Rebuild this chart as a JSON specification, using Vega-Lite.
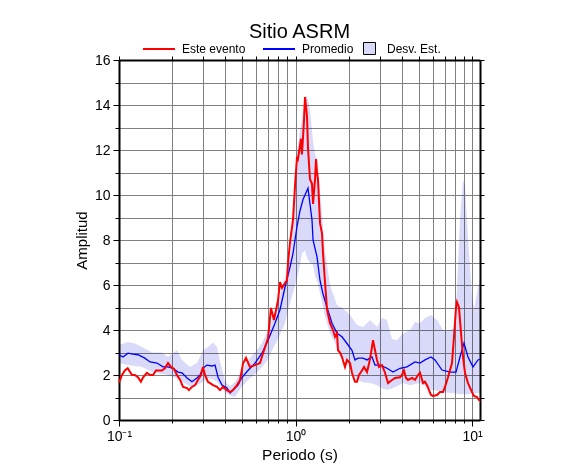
{
  "$schema": "https://vega.github.io/schema/vega-lite/v6.json",
  "width": 361,
  "height": 360,
  "autosize": "none",
  "padding": {"left": 119, "top": 60, "right": 106, "bottom": 55},
  "config": {
    "font": "Liberation Sans",
    "view": {"stroke": null},
    "axis": {"gridColor": "#808080", "gridWidth": 1, "gridOpacity": 1, "tickColor": "black", "domain": true, "domainColor": "black", "domainWidth": 2, "labelColor": "black", "titleColor": "black", "titleFontWeight": "normal"}
  },
  "title": {"text": "Sitio ASRM", "fontSize": 20, "fontWeight": "normal", "offset": -10, "anchor": "middle", "color": "black"},
  "datasets": {
    "ev": [
      {"p":0.1,"a":1.66},{"p":0.104,"a":2.0},{"p":0.108,"a":2.2},{"p":0.112,"a":2.3},{"p":0.1185,"a":2.0},{"p":0.123,"a":2.0},{"p":0.128,"a":1.9},{"p":0.133,"a":1.7},{"p":0.137,"a":1.9},{"p":0.144,"a":2.1},{"p":0.150,"a":2.0},{"p":0.156,"a":2.0},{"p":0.162,"a":2.2},{"p":0.166,"a":2.2},{"p":0.175,"a":2.2},{"p":0.182,"a":2.3},{"p":0.1895,"a":2.53},{"p":0.197,"a":2.36},{"p":0.205,"a":2.27},{"p":0.213,"a":2.0},{"p":0.222,"a":1.78},{"p":0.2305,"a":1.47},{"p":0.243,"a":1.42},{"p":0.249,"a":1.33},{"p":0.259,"a":1.47},{"p":0.270,"a":1.55},{"p":0.280,"a":1.78},{"p":0.2915,"a":2.0},{"p":0.299,"a":2.36},{"p":0.307,"a":2.0},{"p":0.319,"a":1.7},{"p":0.328,"a":1.64},{"p":0.341,"a":1.55},{"p":0.359,"a":1.47},{"p":0.3735,"a":1.33},{"p":0.388,"a":1.47},{"p":0.409,"a":1.33},{"p":0.426,"a":1.24},{"p":0.4425,"a":1.33},{"p":0.466,"a":1.55},{"p":0.485,"a":1.78},{"p":0.504,"a":2.5},{"p":0.524,"a":2.76},{"p":0.552,"a":2.36},{"p":0.590,"a":2.44},{"p":0.629,"a":2.53},{"p":0.655,"a":2.97},{"p":0.699,"a":3.64},{"p":0.7265,"a":4.98},{"p":0.755,"a":4.44},{"p":0.796,"a":5.33},{"p":0.817,"a":6.13},{"p":0.839,"a":5.87},{"p":0.872,"a":6.09},{"p":0.895,"a":6.2},{"p":0.907,"a":6.98},{"p":0.931,"a":7.9},{"p":0.968,"a":8.9},{"p":0.9935,"a":10.4},{"p":1.02,"a":11.7},{"p":1.033,"a":11.6},{"p":1.0745,"a":12.5},{"p":1.088,"a":11.8},{"p":1.117,"a":13.3},{"p":1.132,"a":14.35},{"p":1.162,"a":13.5},{"p":1.177,"a":12.1},{"p":1.208,"a":10.7},{"p":1.240,"a":10.5},{"p":1.257,"a":9.6},{"p":1.290,"a":10.7},{"p":1.307,"a":11.6},{"p":1.324,"a":11.0},{"p":1.341,"a":10.7},{"p":1.377,"a":8.75},{"p":1.413,"a":8.3},{"p":1.432,"a":7.4},{"p":1.470,"a":6.1},{"p":1.509,"a":4.9},{"p":1.569,"a":4.3},{"p":1.6315,"a":4.0},{"p":1.6745,"a":3.7},{"p":1.719,"a":3.85},{"p":1.741,"a":3.1},{"p":1.787,"a":3.0},{"p":1.834,"a":2.8},{"p":1.907,"a":2.36},{"p":1.958,"a":2.67},{"p":2.036,"a":2.53},{"p":2.089,"a":2.1},{"p":2.173,"a":1.7},{"p":2.230,"a":1.7},{"p":2.290,"a":2.0},{"p":2.381,"a":2.2},{"p":2.445,"a":2.36},{"p":2.542,"a":2.13},{"p":2.609,"a":2.5},{"p":2.678,"a":2.97},{"p":2.749,"a":3.55},{"p":2.822,"a":3.1},{"p":2.896,"a":2.67},{"p":2.973,"a":2.36},{"p":3.091,"a":2.44},{"p":3.215,"a":2.1},{"p":3.343,"a":1.64},{"p":3.522,"a":1.78},{"p":3.663,"a":1.87},{"p":3.909,"a":1.9},{"p":4.012,"a":2.0},{"p":4.119,"a":2.2},{"p":4.228,"a":1.87},{"p":4.340,"a":1.78},{"p":4.573,"a":1.87},{"p":4.755,"a":1.78},{"p":4.944,"a":2.0},{"p":5.075,"a":2.1},{"p":5.278,"a":1.64},{"p":5.417,"a":1.7},{"p":5.560,"a":1.55},{"p":5.858,"a":1.11},{"p":6.012,"a":1.07},{"p":6.334,"a":1.11},{"p":6.586,"a":1.24},{"p":6.850,"a":1.24},{"p":7.031,"a":1.47},{"p":7.311,"a":1.9},{"p":7.704,"a":2.53},{"p":7.907,"a":3.7},{"p":8.117,"a":5.0},{"p":8.222,"a":5.24},{"p":8.440,"a":5.0},{"p":8.664,"a":3.87},{"p":8.892,"a":2.8},{"p":9.127,"a":2.1},{"p":9.491,"a":1.64},{"p":10.0,"a":1.24},{"p":10.264,"a":1.07},{"p":10.673,"a":1.02},{"p":10.957,"a":0.89},{"p":11.1,"a":0.85}
    ],
    "prom": [
      {"p":0.1,"a":2.9},{"p":0.1054,"a":2.8},{"p":0.1124,"a":2.97},{"p":0.12,"a":2.93},{"p":0.128,"a":2.9},{"p":0.140,"a":2.75},{"p":0.150,"a":2.58},{"p":0.164,"a":2.53},{"p":0.1775,"a":2.36},{"p":0.1895,"a":2.36},{"p":0.202,"a":2.3},{"p":0.216,"a":2.13},{"p":0.2275,"a":2.1},{"p":0.243,"a":1.87},{"p":0.259,"a":1.7},{"p":0.2766,"a":1.87},{"p":0.2877,"a":2.0},{"p":0.299,"a":2.3},{"p":0.315,"a":2.44},{"p":0.3365,"a":2.4},{"p":0.350,"a":2.44},{"p":0.364,"a":1.9},{"p":0.383,"a":1.55},{"p":0.409,"a":1.42},{"p":0.426,"a":1.2},{"p":0.4425,"a":1.33},{"p":0.472,"a":1.55},{"p":0.498,"a":1.9},{"p":0.538,"a":2.2},{"p":0.590,"a":2.53},{"p":0.646,"a":2.97},{"p":0.699,"a":3.55},{"p":0.765,"a":4.3},{"p":0.817,"a":4.9},{"p":0.872,"a":5.9},{"p":0.931,"a":6.8},{"p":0.968,"a":7.4},{"p":1.02,"a":8.6},{"p":1.0605,"a":9.3},{"p":1.103,"a":9.8},{"p":1.162,"a":10.2},{"p":1.177,"a":10.3},{"p":1.208,"a":9.6},{"p":1.240,"a":8.9},{"p":1.257,"a":8.0},{"p":1.324,"a":7.25},{"p":1.377,"a":6.2},{"p":1.432,"a":5.6},{"p":1.509,"a":5.0},{"p":1.610,"a":4.3},{"p":1.719,"a":3.85},{"p":1.834,"a":3.7},{"p":1.958,"a":3.4},{"p":2.089,"a":3.1},{"p":2.173,"a":2.67},{"p":2.26,"a":2.75},{"p":2.413,"a":2.75},{"p":2.542,"a":2.67},{"p":2.713,"a":2.8},{"p":2.822,"a":2.44},{"p":3.012,"a":2.44},{"p":3.300,"a":2.3},{"p":3.5685,"a":2.13},{"p":3.909,"a":2.3},{"p":4.283,"a":2.36},{"p":4.7545,"a":2.58},{"p":5.075,"a":2.53},{"p":5.417,"a":2.67},{"p":5.858,"a":2.8},{"p":6.171,"a":2.67},{"p":6.761,"a":2.22},{"p":7.506,"a":2.13},{"p":8.117,"a":2.13},{"p":8.551,"a":2.8},{"p":9.009,"a":3.42},{"p":9.491,"a":2.8},{"p":10.131,"a":2.36},{"p":10.814,"a":2.67},{"p":11.1,"a":2.7}
    ],
    "band": [
      {"p":0.1,"lo":2.53,"hi":3.33},{"p":0.1124,"lo":2.44,"hi":3.47},{"p":0.1232,"lo":2.4,"hi":3.4},{"p":0.135,"lo":2.36,"hi":3.25},{"p":0.1538,"lo":2.15,"hi":3.0},{"p":0.1753,"lo":2.05,"hi":3.0},{"p":0.1895,"lo":2.0,"hi":2.8},{"p":0.2131,"lo":1.85,"hi":3.1},{"p":0.2275,"lo":1.7,"hi":2.67},{"p":0.2525,"lo":1.5,"hi":2.36},{"p":0.2766,"lo":1.55,"hi":2.53},{"p":0.2993,"lo":1.7,"hi":3.1},{"p":0.3193,"lo":1.87,"hi":3.25},{"p":0.3409,"lo":1.8,"hi":3.45},{"p":0.3592,"lo":1.7,"hi":3.25},{"p":0.3735,"lo":1.55,"hi":2.6},{"p":0.3987,"lo":1.25,"hi":1.75},{"p":0.4256,"lo":1.1,"hi":1.5},{"p":0.4542,"lo":1.02,"hi":1.7},{"p":0.4978,"lo":1.5,"hi":2.2},{"p":0.5382,"lo":1.78,"hi":2.67},{"p":0.5897,"lo":2.05,"hi":3.0},{"p":0.6461,"lo":2.36,"hi":3.42},{"p":0.6988,"lo":2.7,"hi":4.0},{"p":0.7361,"lo":3.1,"hi":4.44},{"p":0.796,"lo":3.6,"hi":5.33},{"p":0.8387,"lo":4.0,"hi":5.9},{"p":0.8722,"lo":4.3,"hi":6.36},{"p":0.9068,"lo":4.9,"hi":6.9},{"p":0.9307,"lo":5.2,"hi":7.25},{"p":0.9679,"lo":5.64,"hi":8.9},{"p":1.0198,"lo":6.3,"hi":11.9},{"p":1.0605,"lo":6.9,"hi":12.9},{"p":1.0884,"lo":7.4,"hi":13.4},{"p":1.1321,"lo":7.55,"hi":14.4},{"p":1.1621,"lo":7.2,"hi":14.4},{"p":1.2083,"lo":7.0,"hi":13.8},{"p":1.2567,"lo":6.9,"hi":12.4},{"p":1.2899,"lo":6.4,"hi":11.8},{"p":1.3239,"lo":6.2,"hi":11.6},{"p":1.3769,"lo":5.64,"hi":10.2},{"p":1.4697,"lo":4.6,"hi":7.5},{"p":1.5688,"lo":3.85,"hi":6.0},{"p":1.7187,"lo":3.25,"hi":5.1},{"p":1.8583,"lo":2.8,"hi":4.97},{"p":2.0356,"lo":2.3,"hi":4.67},{"p":2.2304,"lo":1.8,"hi":4.22},{"p":2.4127,"lo":1.68,"hi":4.13},{"p":2.6434,"lo":1.64,"hi":4.44},{"p":2.8963,"lo":1.55,"hi":4.13},{"p":3.0914,"lo":1.4,"hi":4.53},{"p":3.2996,"lo":1.35,"hi":4.44},{"p":3.522,"lo":1.4,"hi":3.6},{"p":3.7596,"lo":1.5,"hi":3.55},{"p":4.0652,"lo":1.65,"hi":3.85},{"p":4.455,"lo":1.55,"hi":4.0},{"p":4.7545,"lo":1.6,"hi":4.36},{"p":5.0746,"lo":1.64,"hi":4.3},{"p":5.4168,"lo":1.5,"hi":4.53},{"p":5.8576,"lo":1.35,"hi":4.67},{"p":6.3338,"lo":1.3,"hi":4.44},{"p":6.85,"lo":1.25,"hi":4.0},{"p":7.5057,"lo":1.2,"hi":4.0},{"p":8.0118,"lo":1.18,"hi":4.1},{"p":8.2224,"lo":1.18,"hi":5.9},{"p":8.5507,"lo":1.15,"hi":8.9},{"p":8.892,"lo":1.15,"hi":10.7},{"p":9.1266,"lo":1.15,"hi":10.4},{"p":9.4914,"lo":1.15,"hi":8.1},{"p":10.0,"lo":1.18,"hi":5.5},{"p":10.264,"lo":1.2,"hi":4.9},{"p":10.673,"lo":1.2,"hi":5.64},{"p":11.1,"lo":1.2,"hi":6.3}
    ]
  },
  "resolve": {"axis": {"x": "independent", "y": "independent"}},
  "layer": [
    {
      "data": {"name": "band"},
      "mark": {"type": "area", "blend": "multiply", "opacity": 1},
      "encoding": {
        "x": {"field": "p", "type": "quantitative",
          "scale": {"type": "log", "domain": [0.1, 11.1], "nice": false},
          "axis": {"orient": "bottom", "title": "Periodo (s)", "titleFontSize": 15.5, "titlePadding": 4,
            "values": [0.1,0.2,0.3,0.4,0.5,0.6,0.7,0.8,0.9,1,2,3,4,5,6,7,8,9,10],
            "labelExpr": "datum.value == 0.1 ? '10⁻¹' : datum.value == 1 ? '10⁰' : datum.value == 10 ? '10¹' : ''",
            "labelFontSize": 14, "labelPadding": 3, "labelFlush": false, "labelOverlap": false,
            "grid": true,
            "gridOpacity": {"condition": {"test": "datum.value == 0.1", "value": 0}, "value": 1},
            "tickSize": {"condition": {"test": "datum.value == 0.1 || datum.value == 1 || datum.value == 10", "value": 6}, "value": 3}}},
        "y": {"field": "lo", "type": "quantitative",
          "scale": {"domain": [0, 16], "nice": false},
          "axis": {"orient": "left", "title": "Amplitud", "titleFontSize": 15, "titlePadding": 5,
            "values": [0,1,2,3,4,5,6,7,8,9,10,11,12,13,14,15,16],
            "labelExpr": "datum.value % 2 == 0 ? datum.label : ''",
            "labelFontSize": 14, "labelPadding": 3, "labelOverlap": false, "grid": true,
            "gridOpacity": {"condition": {"test": "datum.value == 0 || datum.value == 16", "value": 0}, "value": 1},
            "tickSize": {"condition": {"test": "datum.value % 2 == 0", "value": 6}, "value": 4}}},
        "y2": {"field": "hi"},
        "fill": {"datum": "Desv. Est.", "type": "nominal", "scale": {"range": ["#d9d9fa"]},
          "legend": {"orient": "none", "legendX": 244, "legendY": -18, "title": null, "direction": "horizontal",
            "symbolType": "square", "symbolSize": 144, "symbolStrokeColor": "black", "symbolStrokeWidth": 1, "symbolOpacity": 1,
            "labelFontSize": 12, "labelOffset": 11, "labelColor": "black", "padding": 0}}
      }
    },
    {
      "data": {"name": "prom"},
      "mark": {"type": "line", "strokeWidth": 1.3},
      "encoding": {
        "x": {"field": "p", "type": "quantitative",
          "axis": {"orient": "top", "title": null, "labels": false, "grid": false, "tickSize": 4,
            "values": [0.1,0.2,0.3,0.4,0.5,0.6,0.7,0.8,0.9,1,2,3,4,5,6,7,8,9,10]}},
        "y": {"field": "a", "type": "quantitative",
          "axis": {"orient": "right", "title": null, "labels": false, "grid": false, "tickSize": 4,
            "values": [0,1,2,3,4,5,6,7,8,9,10,11,12,13,14,15,16]}},
        "color": {"datum": "Promedio", "type": "nominal",
          "scale": {"domain": ["Este evento", "Promedio"], "range": ["#ff0000", "#0000ff"]},
          "legend": {"orient": "none", "legendX": 23, "legendY": -28, "title": null, "direction": "horizontal",
            "symbolType": "stroke", "symbolSize": 1024, "symbolStrokeWidth": 2, "labelFontSize": 12, "labelOffset": 6,
            "columnPadding": 13, "labelColor": "black", "padding": 0}}
      }
    },
    {
      "data": {"name": "ev"},
      "mark": {"type": "line", "strokeWidth": 2},
      "encoding": {
        "x": {"field": "p", "type": "quantitative", "axis": null},
        "y": {"field": "a", "type": "quantitative", "axis": null},
        "color": {"datum": "Este evento", "type": "nominal"}
      }
    }
  ]
}
